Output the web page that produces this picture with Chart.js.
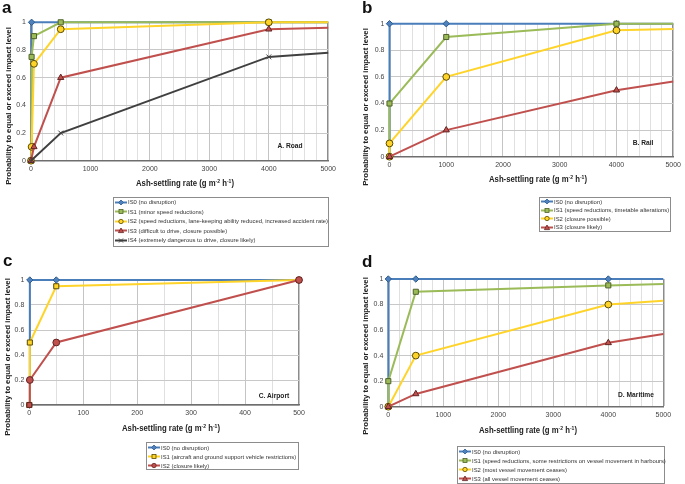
<!DOCTYPE html>
<html>
<head>
<meta charset="utf-8">
<script src="https://cdn.jsdelivr.net/npm/chart.js@4"></script>
<style>
  body { margin: 0; background: #fff; width: 685px; height: 484px; overflow: hidden; position: relative;
         font-family: "Liberation Sans", Arial, sans-serif; color: #222; }
  .abs { position: absolute; }
  .letter { font-weight: bold; font-size: 17px; line-height: 17px; color: #111; }
  .ytitle { font-weight: bold; font-size: 7.8px; white-space: nowrap; transform: translate(-50%, -50%) rotate(-90deg); }
  .xtitle { font-weight: bold; font-size: 8.8px; white-space: nowrap; transform: translate(-50%, -50%) scaleX(0.88); }
  .xtitle sup { font-size: 65%; }
  .tag { font-weight: bold; font-size: 7.4px; white-space: nowrap; transform: translate(-50%, -50%) scaleX(0.9); }
  .legend { border: 1px solid #8c8c8c; background: #fff; box-sizing: border-box; }
  .row { position: absolute; left: 1px; height: 8px; display: flex; align-items: center;
         font-size: 5.9px; color: #333; white-space: nowrap; }
  .row svg { flex: none; margin-right: 1px; }
</style>
</head>
<body>
<script>
// ---- data (x = ash-settling rate, y = probability) ----
const roadNames = ['IS0 (no disruption)', 'IS1 (minor speed reductions)',
  'IS2 (speed reductions, lane-keeping ability reduced, increased accident rate)',
  'IS3 (difficult to drive, closure possible)', 'IS4 (extremely dangerous to drive, closure likely)'];
const roadIS0 = [[0, 0], [10, 1], [5000, 1]];
const roadIS1 = [[0, 0], [10, 0.75], [50, 0.9], [500, 1], [4000, 1], [5000, 1]];
const roadIS2 = [[0, 0], [10, 0.1], [50, 0.7], [500, 0.95], [4000, 1], [5000, 1]];
const roadIS3 = [[0, 0], [50, 0.1], [500, 0.6], [4000, 0.95], [5000, 0.96]];
const roadIS4 = [[0, 0], [500, 0.2], [4000, 0.75], [5000, 0.78]];

const railNames = ['IS0 (no disruption)', 'IS1 (speed reductions, timetable alterations)',
  'IS2 (closure possible)', 'IS3 (closure likely)'];
const railIS0 = [[0, 0], [0, 1], [1000, 1], [4000, 1], [5000, 1]];
const railIS1 = [[0, 0], [0, 0.4], [1000, 0.9], [4000, 1], [5000, 1]];
const railIS2 = [[0, 0], [0, 0.1], [1000, 0.6], [4000, 0.95], [5000, 0.96]];
const railIS3 = [[0, 0], [1000, 0.2], [4000, 0.5], [5000, 0.565]];

const airNames = ['IS0 (no disruption)', 'IS1 (aircraft and ground support vehicle restrictions)',
  'IS2 (closure likely)'];
const airIS0 = [[0, 0], [1, 1], [50, 1], [500, 1]];
const airIS1 = [[0, 0], [1, 0.5], [50, 0.95], [500, 1]];
const airIS2 = [[0, 0], [1, 0.2], [50, 0.5], [500, 1]];

const seaNames = ['IS0 (no disruption)',
  'IS1 (speed reductions, some restrictions on vessel movement in harbours)',
  'IS2 (most vessel movement ceases)', 'IS3 (all vessel movement ceases)'];
const seaIS0 = [[0, 0], [0, 1], [500, 1], [4000, 1], [5000, 1]];
const seaIS1 = [[0, 0], [0, 0.2], [500, 0.9], [4000, 0.95], [5000, 0.96]];
const seaIS2 = [[0, 0], [500, 0.4], [4000, 0.8], [5000, 0.83]];
const seaIS3 = [[0, 0], [500, 0.1], [4000, 0.5], [5000, 0.57]];

// ---- styles ----
const FONT = 'Liberation Sans';
const BLUE = { line: '#4a7ebb', fill: '#4f81bd', edge: '#2f5c8f', marker: 'rectRot', r: 3.2 };
const GREEN = { line: '#9bbb59', fill: '#9bbb59', edge: '#4f6228', marker: 'rect', r: 3.6 };
const YELLOW = { line: '#ffd42a', fill: '#ffd42a', edge: '#5a4a00', marker: 'circle', r: 3.4 };
const YELLOW_SQ = Object.assign({}, YELLOW, { marker: 'rect', r: 3.6 });
const RED = { line: '#c0504d', fill: '#c0504d', edge: '#632523', marker: 'triangle', r: 3.6 };
const RED_CIRC = Object.assign({}, RED, { marker: 'circle', r: 3.4, first: 'rect' });
const GREY = { line: '#404040', fill: '#404040', edge: '#404040', marker: 'crossRot', r: 3.4 };

function el(cls, css, html) {
  const d = document.createElement('div');
  d.className = 'abs ' + cls;
  d.style.cssText = css;
  if (html) d.innerHTML = html;
  document.body.appendChild(d);
  return d;
}

function sampleSvg(st) {
  let m = '';
  const c = `fill="${st.fill}" stroke="${st.edge}" stroke-width="0.8"`;
  if (st.marker === 'rectRot') m = `<polygon points="6,1 8.5,3.5 6,6 3.5,3.5" ${c}/>`;
  else if (st.marker === 'rect') m = `<rect x="4" y="1.5" width="4" height="4" ${c}/>`;
  else if (st.marker === 'circle') m = `<circle cx="6" cy="3.5" r="2.2" ${c}/>`;
  else if (st.marker === 'triangle') m = `<polygon points="6,1 8.6,5.6 3.4,5.6" ${c}/>`;
  else m = `<path d="M4,1.5 L8,5.5 M8,1.5 L4,5.5" stroke="${st.edge}" stroke-width="1"/>`;
  return `<svg width="12" height="7" viewBox="0 0 12 7"><line x1="0" y1="3.5" x2="12" y2="3.5" stroke="${st.line}" stroke-width="2"/>${m}</svg>`;
}

function makePanel(p) {
  const { box, plot, xMax, xStep, xLabelStep, series } = p;
  const wrap = el('', `left:${box.left}px;top:${box.top}px;width:${box.w}px;height:${box.h}px`);
  const cv = document.createElement('canvas');
  wrap.appendChild(cv);

  new Chart(cv, {
    type: 'line',
    data: {
      datasets: series.map((s, i) => ({
        data: s.points.map(pt => ({ x: pt[0], y: pt[1] })),
        borderColor: s.style.line,
        borderWidth: 2,
        pointStyle: ctx => (ctx.dataIndex === 0 && s.style.first ? s.style.first : s.style.marker),
        pointRadius: ctx => (ctx.raw && ctx.raw.x === 5000 ? 0 : s.style.r),
        pointBackgroundColor: s.style.fill,
        pointBorderColor: s.style.edge,
        pointBorderWidth: 1,
        order: series.length - i,
        clip: false,
        tension: 0
      }))
    },
    options: {
      responsive: true,
      maintainAspectRatio: false,
      animation: false,
      events: [],
      layout: { padding: { left: 0, bottom: 0, top: plot.t - box.top, right: box.left + box.w - plot.r } },
      plugins: { legend: { display: false }, tooltip: { enabled: false } },
      scales: {
        x: {
          type: 'linear', min: 0, max: xMax,
          afterFit: sc => { sc.height = box.top + box.h - plot.b; },
          ticks: {
            stepSize: xStep, autoSkip: false, maxRotation: 0, padding: 4,
            font: { size: 7, family: FONT }, color: '#444',
            callback: v => (v % xLabelStep === 0 ? v : '')
          },
          grid: {
            drawTicks: false,
            color: ctx => (ctx.tick.value === xMax ? '#8c8c8c' : ctx.tick.value % xLabelStep === 0 ? '#c4c4c4' : '#e0e0e0'),
            lineWidth: ctx => (ctx.tick.value === xMax ? 1.5 : 1)
          },
          border: { display: true, color: '#6e6e6e', width: 1.5 }
        },
        y: {
          min: 0, max: 1,
          afterFit: sc => { sc.width = plot.l - box.left; },
          ticks: {
            stepSize: 0.2, padding: 5, font: { size: 7, family: FONT }, color: '#444',
            callback: v => String(Number(v.toFixed(1)))
          },
          grid: { drawTicks: false, color: '#c8c8c8' },
          border: { display: true, color: '#8c8c8c', width: 1.5 }
        }
      }
    }
  });

  // panel letter, axis titles, tag
  el('letter', `left:${p.letter[1]}px;top:${p.letter[2]}px`, p.letter[0]);
  el('ytitle', `left:${p.yTitle[0]}px;top:${p.yTitle[1]}px`, 'Probability to equal or exceed impact level');
  el('xtitle', `left:${p.xTitle[0]}px;top:${p.xTitle[1]}px`, 'Ash-settling rate (g m<sup>-2</sup> h<sup>-1</sup>)');
  el('tag', `left:${p.tag[1]}px;top:${p.tag[2]}px`, p.tag[0]);

  // legend
  const lg = p.legend;
  const lb = el('legend', `left:${lg.l}px;top:${lg.t}px;width:${lg.w}px;height:${lg.h}px`);
  series.forEach((s, i) => {
    const row = document.createElement('div');
    row.className = 'row';
    row.style.top = (lg.y0 + i * lg.step - lg.t - 1 - 4) + 'px';
    row.innerHTML = sampleSvg(s.style) + '<span>' + s.name + '</span>';
    lb.appendChild(row);
  });
}

makePanel({
  box: { left: 0, top: 0, w: 340, h: 180 },
  plot: { l: 31, t: 22.3, r: 330, b: 160.7 },
  xMax: 5000, xStep: 200, xLabelStep: 1000,
  series: [
    { name: roadNames[0], points: roadIS0, style: BLUE },
    { name: roadNames[1], points: roadIS1, style: GREEN },
    { name: roadNames[2], points: roadIS2, style: YELLOW },
    { name: roadNames[3], points: roadIS3, style: RED },
    { name: roadNames[4], points: roadIS4, style: GREY }
  ],
  letter: ['a', 2, -1.4], yTitle: [8, 106], xTitle: [185, 183], tag: ['A. Road', 290, 145],
  legend: { l: 113, t: 197, w: 216, h: 50, y0: 202, step: 9.6 }
});

makePanel({
  box: { left: 340, top: 0, w: 345, h: 177 },
  plot: { l: 389.5, t: 23.7, r: 674.3, b: 156.7 },
  xMax: 5000, xStep: 200, xLabelStep: 1000,
  series: [
    { name: railNames[0], points: railIS0, style: BLUE },
    { name: railNames[1], points: railIS1, style: GREEN },
    { name: railNames[2], points: railIS2, style: YELLOW },
    { name: railNames[3], points: railIS3, style: RED }
  ],
  letter: ['b', 362, -1.4], yTitle: [365, 107], xTitle: [538, 179], tag: ['B. Rail', 643, 142],
  legend: { l: 539, t: 197, w: 132, h: 35, y0: 201.5, step: 8.5 }
});

makePanel({
  box: { left: 0, top: 255, w: 340, h: 170 },
  plot: { l: 29.3, t: 280, r: 299, b: 405 },
  xMax: 500, xStep: 50, xLabelStep: 100,
  series: [
    { name: airNames[0], points: airIS0, style: BLUE },
    { name: airNames[1], points: airIS1, style: YELLOW_SQ },
    { name: airNames[2], points: airIS2, style: RED_CIRC }
  ],
  letter: ['c', 3, 251.6], yTitle: [7, 357], xTitle: [171, 428], tag: ['C. Airport', 274, 395],
  legend: { l: 146, t: 442, w: 153, h: 28, y0: 447.7, step: 9 }
});

makePanel({
  box: { left: 340, top: 255, w: 345, h: 172 },
  plot: { l: 388.3, t: 279, r: 663.3, b: 406.7 },
  xMax: 5000, xStep: 200, xLabelStep: 1000,
  series: [
    { name: seaNames[0], points: seaIS0, style: BLUE },
    { name: seaNames[1], points: seaIS1, style: GREEN },
    { name: seaNames[2], points: seaIS2, style: YELLOW },
    { name: seaNames[3], points: seaIS3, style: RED }
  ],
  letter: ['d', 362, 252.6], yTitle: [365, 356], xTitle: [528, 430], tag: ['D. Maritime', 636, 394],
  legend: { l: 457, t: 446, w: 208, h: 38, y0: 451.7, step: 9 }
});
</script>
</body>
</html>
